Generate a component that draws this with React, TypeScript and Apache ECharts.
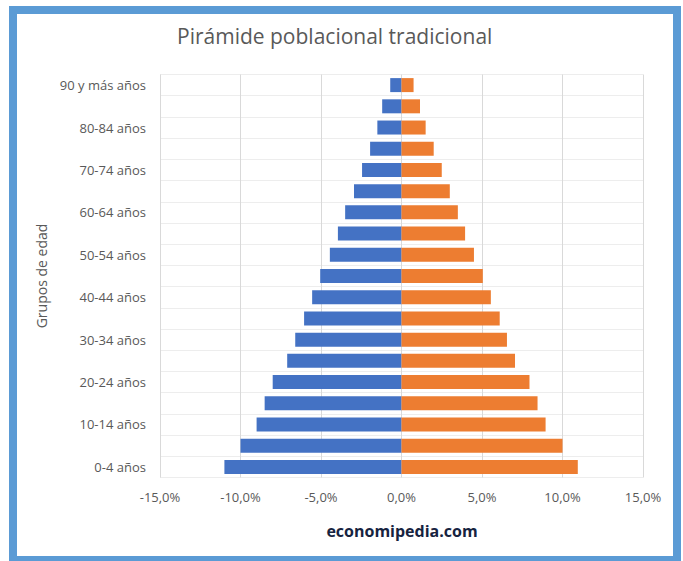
import React, { useEffect, useRef } from "react";
import * as echarts from "echarts";

const categories = [
  "0-4 años", "5-9 años", "10-14 años", "15-19 años", "20-24 años", "25-29 años",
  "30-34 años", "35-39 años", "40-44 años", "45-49 años", "50-54 años", "55-59 años",
  "60-64 años", "65-69 años", "70-74 años", "75-79 años", "80-84 años", "85-89 años",
  "90 y más años",
];
const leftValues = [
  -11.0, -10.0, -9.0, -8.5, -8.0, -7.1, -6.6, -6.05, -5.55, -5.05, -4.45, -3.95,
  -3.5, -2.95, -2.45, -1.95, -1.5, -1.2, -0.7,
];
const rightValues = [
  10.95, 10.0, 8.95, 8.45, 7.95, 7.05, 6.55, 6.1, 5.55, 5.05, 4.5, 3.95,
  3.5, 3.0, 2.5, 2.0, 1.5, 1.15, 0.75,
];
const xTicks = [-15, -10, -5, 0, 5, 10, 15];
const titleText = "Pirámide poblacional tradicional";
const yAxisTitle = "Grupos de edad";
const watermark = "economipedia.com";

export default function App() {
  const ref = useRef<HTMLDivElement>(null);
  useEffect(() => {
    if (!ref.current) return;
    const chart = echarts.init(ref.current, null, { renderer: "svg" });
    const fmt = (v: number) => v.toFixed(1).replace(".", ",") + "%";
    chart.setOption({
      animation: false,
      backgroundColor: "#ffffff",
      title: {
        text: titleText,
        left: 172,
        top: 20,
        textStyle: {
          fontFamily: "Open Sans",
          fontWeight: "normal",
          fontSize: 21,
          color: "#595959",
        },
      },
      grid: { left: 160, right: 40, top: 74.5, bottom: 83.5, containLabel: false },
      xAxis: {
        type: "value",
        min: xTicks[0],
        max: xTicks[xTicks.length - 1],
        interval: 5,
        axisLabel: {
          formatter: fmt,
          color: "#595959",
          fontFamily: "Open Sans",
          fontSize: 13,
          margin: 13,
        },
        axisLine: { show: false },
        axisTick: { show: false },
        splitLine: { show: true, lineStyle: { color: "#D9D9D9", width: 1 } },
      },
      yAxis: {
        type: "category",
        data: categories,
        name: yAxisTitle,
        nameLocation: "middle",
        nameGap: 105,
        nameTextStyle: { color: "#595959", fontFamily: "Open Sans", fontSize: 14 },
        axisLine: { show: false, onZero: false },
        axisTick: { show: false },
        axisLabel: {
          interval: 1,
          color: "#595959",
          fontFamily: "Open Sans",
          fontSize: 13,
          margin: 14,
        },
        splitLine: { show: true, interval: 0, lineStyle: { color: "#EDEDED", width: 1 } },
      },
      series: [
        {
          type: "bar",
          name: "Izquierda",
          stack: "total",
          data: leftValues,
          barCategoryGap: "34%",
          itemStyle: { color: "#4472C4" },
        },
        {
          type: "bar",
          name: "Derecha",
          stack: "total",
          data: rightValues,
          barCategoryGap: "34%",
          itemStyle: { color: "#ED7D31" },
        },
      ],
      graphic: [
        {
          type: "rect",
          shape: { x: 13, y: 10, width: 664, height: 550 },
          style: { fill: "none", stroke: "#5B9BD5", lineWidth: 8 },
          silent: true,
        },
        {
          type: "text",
          x: 402,
          y: 531,
          style: {
            text: watermark,
            fill: "#16233F",
            font: "bold 16px 'Open Sans'",
            textAlign: "center",
            textVerticalAlign: "middle",
          },
        },
      ],
    });
    return () => chart.dispose();
  }, []);
  return (
    <div
      ref={ref}
      style={{ position: "absolute", left: 0, top: 0, width: 683, height: 561 }}
    />
  );
}
